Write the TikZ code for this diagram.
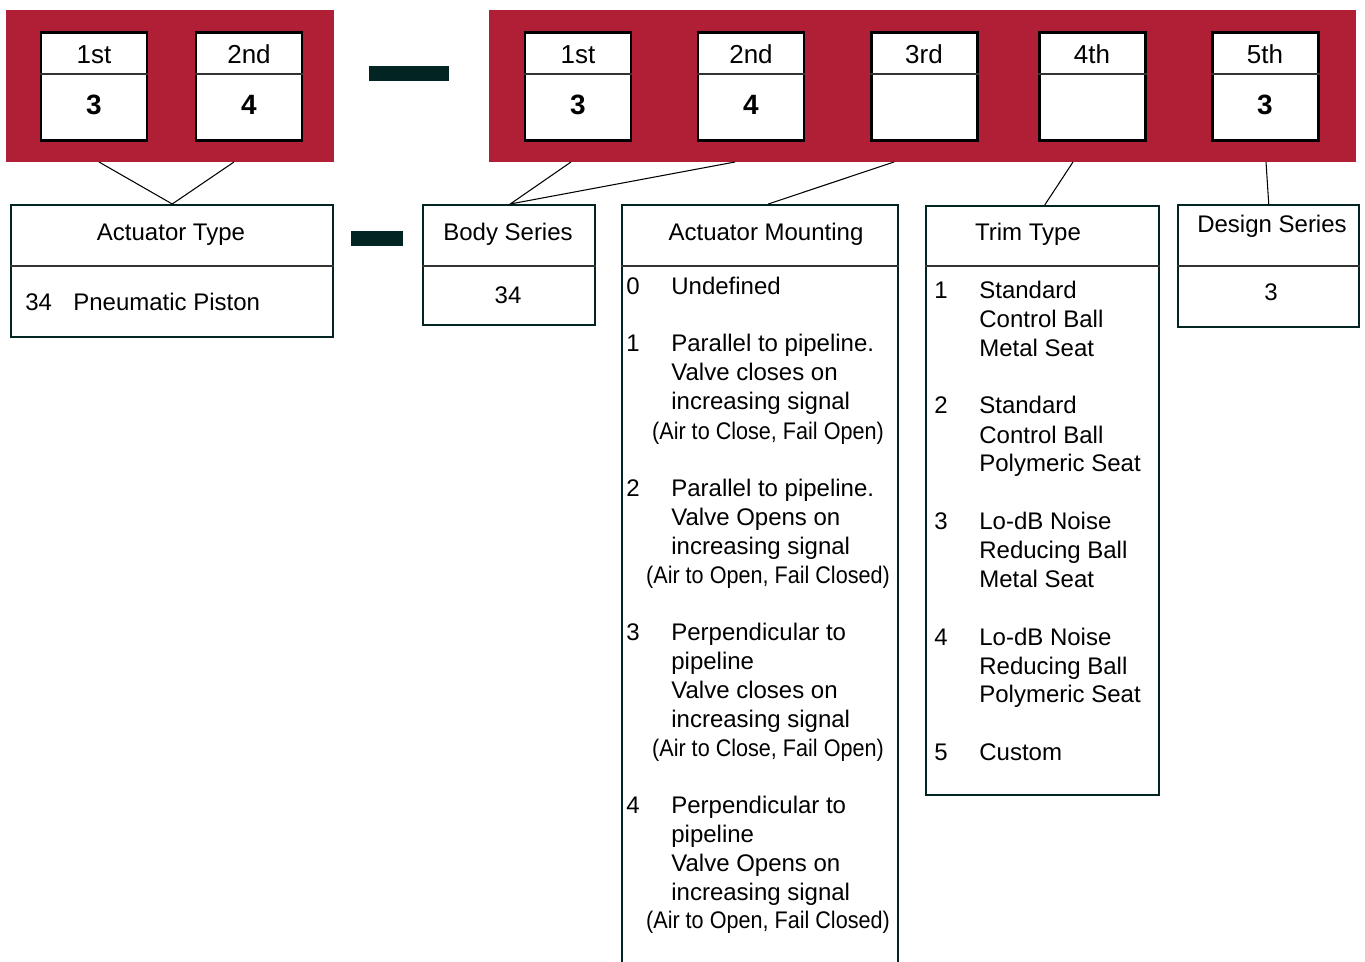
\documentclass[tikz,border=0pt]{standalone}
\usepackage{fontspec}
\setmainfont{Liberation Sans}
\usetikzlibrary{calc,positioning}
\definecolor{crimson}{HTML}{B11F37}
\definecolor{darkteal}{HTML}{022422}
\def\pxu{0.02cm}
\tikzset{
  digitbox/.style={draw=black,line width=1.7pt,fill=white,anchor=north west,inner sep=0pt,
    minimum width=106*\pxu,minimum height=108*\pxu},
  infobox/.style={draw=darkteal,line width=1.4pt,fill=white,anchor=north west,inner sep=0pt},
  divider/.style={line width=0.8pt,black!80},
  link/.style={line width=0.6pt,black},
  lbl/.style={font=\fontsize{13.66}{16.4}\selectfont,inner sep=0pt,anchor=base west},
  ctr/.style={font=\fontsize{13.66}{16.4}\selectfont,inner sep=0pt,anchor=base},
  ord/.style={font=\fontsize{14.8}{17}\selectfont,inner sep=0pt,anchor=base},
  val/.style={font=\bfseries\fontsize{15.9}{18}\selectfont,inner sep=0pt,anchor=base}
}
\begin{document}
\begin{tikzpicture}[x=0.02cm,y=-0.02cm]
\useasboundingbox (0,0) rectangle (1365,962);
% code bands and dashes
\fill[crimson] (6,10) rectangle (334,162);
\fill[crimson] (489,10) rectangle (1356,162);
\fill[darkteal] (369,66) rectangle (449,81);
\fill[darkteal] (351,231) rectangle (403,246);

% digit boxes
\foreach \nm/\x/\ord/\val in {l1/39.5/1st/3,l2/194.5/2nd/4,r1/523.5/1st/3,r2/696.5/2nd/4,r3/869.5/3rd/,r4/1037.5/4th/,r5/1210.5/5th/3}{
  \node[digitbox] (\nm) at (\x,31.5) {};
  \draw[divider] ($(\nm.north west)+(0,42.5)$) -- ($(\nm.north east)+(0,42.5)$);
  \node[ord] (\nm o) at ($(\nm.north)+(0,32)$) {\ord};
  \node[val] (\nm v) at ($(\nm.north)+(0,83)$) {\val};
}
\coordinate (l1b) at (99,162); \coordinate (l2b) at (234,162);
\coordinate (r1b) at (571,162); \coordinate (r2b) at (735,162);
\coordinate (r3b) at (894,162); \coordinate (r4b) at (1073,162);
\coordinate (r5b) at (1266,162);

% field boxes
\node[infobox,minimum width=322*\pxu,minimum height=132*\pxu] (atype) at (10,204) {};
\node[infobox,minimum width=172*\pxu,minimum height=120*\pxu] (body) at (422,204) {};
\node[infobox,minimum width=276*\pxu,minimum height=800*\pxu] (amount) at (621,204) {};
\node[infobox,minimum width=233*\pxu,minimum height=589*\pxu] (trim) at (925,205) {};
\node[infobox,minimum width=181*\pxu,minimum height=122*\pxu] (design) at (1177,204) {};
\foreach \b in {atype,body,amount,design}
  \draw[divider] ($(\b.north west)+(0,62)$) -- ($(\b.north east)+(0,62)$);
\draw[divider] ($(trim.north west)+(0,61)$) -- ($(trim.north east)+(0,61)$);

% connectors
\draw[link] (l1b) -- (atype.north) -- (l2b);
\draw[link] (r1b) -- ($(body.north)+(1,0)$) -- (r2b);
\draw[link] (r3b) -- ($(amount.north)+(8,0)$);
\draw[link] (r4b) -- ($(trim.north)+(2,0)$);
\draw[link] (r5b) -- (design.north);

% titles and values
\node[ctr] (atypet) at (171,241) {Actuator Type};
\node[lbl] (atypen) at (25,311) {34};
\node[lbl] (atypev) at (73,311) {Pneumatic Piston};
\node[ctr] (bodyt) at (508,241) {Body Series};
\node[ctr] (bodyv) at (508,304) {34};
\node[ctr] (amountt) at (766,241) {Actuator Mounting};
\node[ctr] (trimt) at (1028,241) {Trim Type};
\node[ctr] (designt) at (1272,233) {Design Series};
\node[ctr] (designv) at (1271,301) {3};

% actuator mounting list
\foreach \n/\y in {0/295,1/352,2/496,3/640,4/813}
  \node[lbl] (amn\n) at (626,\y) {\n};
\foreach \y/\t [count=\k] in {295/Undefined,352/Parallel to pipeline.,381/Valve closes on,410/increasing signal,
    496/Parallel to pipeline.,525/Valve Opens on,554/increasing signal,
    640/Perpendicular to,669/pipeline,698/Valve closes on,727/increasing signal,
    813/Perpendicular to,842/pipeline,871/Valve Opens on,900/increasing signal}
  \node[lbl] (aml\k) at (671,\y) {\t};
\foreach \y/\t [count=\k] in {439/{(Air to Close, Fail Open)},583/{(Air to Open, Fail Closed)},
    756/{(Air to Close, Fail Open)},928/{(Air to Open, Fail Closed)}}
  \node[ctr] (amp\k) at (768,\y) {\scalebox{0.9}[1]{\t}};

% trim type list
\foreach \n/\y in {1/299,2/414,3/529,4/645,5/760}
  \node[lbl] (trimn\n) at (934,\y) {\n};
\foreach \y/\t [count=\k] in {299/Standard,328/Control Ball,357/Metal Seat,
    414/Standard,443/Control Ball,472/Polymeric Seat,
    529/Lo-dB Noise,558/Reducing Ball,587/Metal Seat,
    645/Lo-dB Noise,674/Reducing Ball,702/Polymeric Seat,760/Custom}
  \node[lbl] (triml\k) at (979,\y) {\t};
\end{tikzpicture}
\end{document}
